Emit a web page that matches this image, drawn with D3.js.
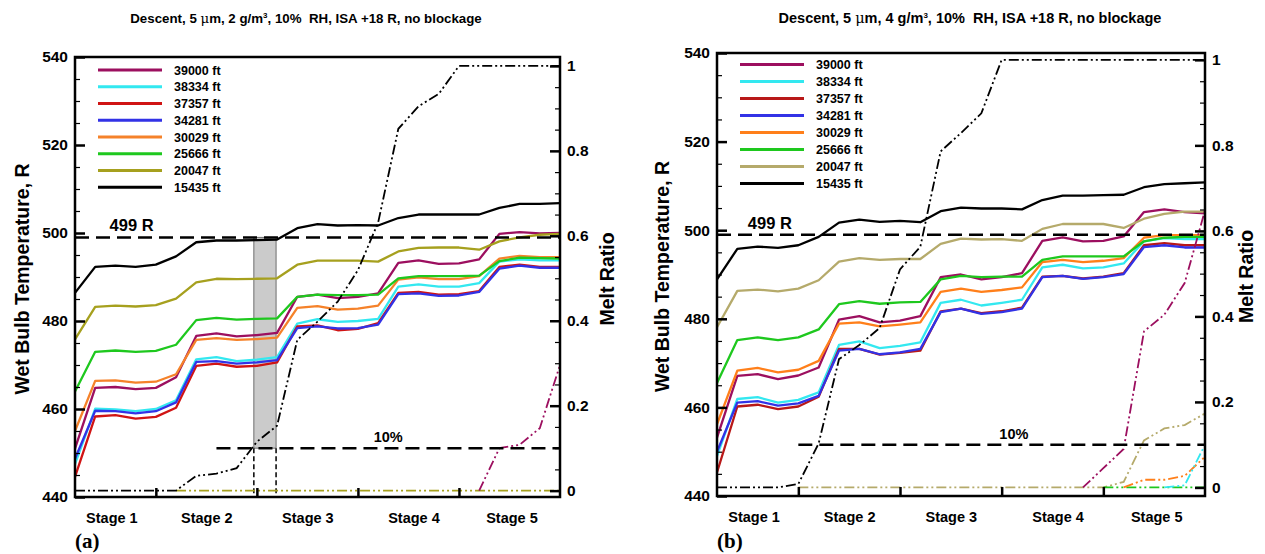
<!DOCTYPE html>
<html lang="en">
<head>
<meta charset="utf-8">
<title>Wet bulb temperature and melt ratio, descent</title>
<script src="https://cdn.jsdelivr.net/npm/d3@7"></script>
<style>
  body { margin: 0; background: #fff; }
  text { font-family: "Liberation Sans", Arial, sans-serif; font-weight: bold; fill: #000; }
  .axis text { font-size: 15.5px; }
  .stage text { font-size: 14.5px; }
</style>
</head>
<body>
<script>

var w = 1265;
var h = 554;

// compressor stations along the x axis
var station = [0,1,2,3,4,5,6,7,8,9,10,11,12,13,14,15,16,17,18,19,20,21,22,23,24];
var stageNames = ['Stage 1','Stage 2','Stage 3','Stage 4','Stage 5'];
var stageCentres = [1.8, 6.5, 11.5, 16.75, 21.6];
var stageBounds = [4, 9, 14, 19];
var altitudes = ['39000 ft','38334 ft','37357 ft','34281 ft','30029 ft','25666 ft','20047 ft','15435 ft'];

var tempTicks = [440, 460, 480, 500, 520, 540];
var tempMinor = [445, 450, 455, 465, 470, 475, 485, 490, 495, 505, 510, 515, 525, 530, 535];
var meltTicks = [0, 0.2, 0.4, 0.6, 0.8, 1];
var meltMinor = [0.05, 0.1, 0.15, 0.25, 0.3, 0.35, 0.45, 0.5, 0.55, 0.65, 0.7, 0.75, 0.85, 0.9, 0.95];

// (a) 2 g/m3 : wet bulb temperature, R
var a39000 = [451,464.8,465,464.5,464.8,467.2,476.6,477.2,476.5,476.8,477.3,485.5,486,485.2,485.5,486.3,493.2,493.8,493,493.1,494,499.8,500.2,499.9,500];
var a38334 = [447.5,460.1,459.9,459.5,460,462,471.3,471.8,470.9,471.2,471.8,479.4,480.4,479.8,480,480.5,487.8,488.3,487.8,487.8,488.6,493.5,494,493.8,493.8];
var a37357 = [444.6,458.3,458.6,457.8,458.2,460.3,469.8,470.3,469.6,469.8,470.6,478.8,479,477.9,478.2,479.5,486.4,486.6,486,486.1,486.8,492.3,492.8,492.3,492.3];
var a34281 = [448.7,459.6,459.5,459,459.5,461.5,470.7,470.9,470.3,470.6,471.1,478.4,478.8,478.3,478.4,479.2,486.1,486.3,485.7,485.8,486.6,491.9,492.6,492.1,492.1];
var a30029 = [455,466.4,466.5,466,466.2,467.9,475.7,476.1,475.7,475.9,476.2,483,483.4,482.6,482.8,483.5,489.4,489.9,489.5,489.5,490.2,494.2,494.8,494.5,494.5];
var a25666 = [464,473,473.3,473,473.2,474.6,480.2,480.7,480.3,480.5,480.6,485.5,486,485.9,485.9,486,489.7,490.2,490.2,490.2,490.3,493.6,494.4,494.3,494.2];
var a20047 = [475.8,483.2,483.5,483.3,483.6,485.1,488.8,489.6,489.5,489.6,489.7,492.8,493.7,493.7,493.7,493.5,495.8,496.6,496.7,496.7,496.2,498.1,499,499.6,499.8];
var a15435 = [486.4,492.3,492.6,492.3,492.8,494.7,497.9,498.3,498.3,498.4,498.5,501.1,502,501.7,501.8,501.7,503.4,504.2,504.2,504.2,504.2,505.7,506.6,506.6,506.8];

// (a) melt ratio
var meltA39000 = [null,null,null,null,null,null,null,null,null,null,null,null,null,null,null,null,null,null,null,null,0,0.1,0.108,0.147,0.296];
var meltA20047 = [null,null,null,null,null,0,0,0,0,0,0,0,0,0,0,0,0,0,0,0,0,0,0,0,0];
var meltA15435 = [0,0,0,0,0,0,0.035,0.04,0.053,0.115,0.153,0.355,0.398,0.445,0.519,0.631,0.852,0.905,0.934,1,1,1,1,1,1];

// (b) 4 g/m3 : wet bulb temperature, R
var b39000 = [453.2,467.1,467.5,466.4,467.2,469,479.8,480.6,479.2,479.6,480.6,489.4,490,488.9,489.4,490.3,497.6,498.4,497.5,497.6,498.6,504.1,504.7,504.1,503.8];
var b38334 = [449,461.9,462.3,461.1,461.7,463.4,474.1,474.9,473.4,473.9,474.7,483.6,484.3,483,483.6,484.3,491.6,492.2,491.4,491.6,492.5,497.5,498.2,498,498];
var b37357 = [445.3,460.2,460.6,459.6,460.2,462.4,473.2,473.2,471.9,472.3,472.8,481.7,482.3,481.3,481.7,482.5,489.5,489.7,489.1,489.5,490.3,496.6,497.1,496.6,496.6];
var b34281 = [450,461.1,461.4,460.4,460.9,462.6,472.8,473.2,472,472.4,473.2,481.5,482.3,481.1,481.5,482.3,489.4,489.7,489,489.4,490.1,496.2,496.6,496.1,496.1];
var b30029 = [456.2,468.3,468.9,467.9,468.5,470.5,478.9,479.2,478.3,478.7,479.2,486.1,486.8,486.1,486.5,487.1,492.8,493.3,492.8,493.1,493.7,498.3,498.9,498.9,498.9];
var b25666 = [465.5,475.2,475.8,475.2,475.8,477.6,483.3,484,483.4,483.7,483.8,488.9,489.7,489.4,489.5,489.5,493.3,494.1,494.1,494.1,494.1,497.5,498.3,498.5,498.5];
var b20047 = [478.1,486.3,486.6,486.2,486.8,488.7,492.9,493.7,493.3,493.5,493.5,496.9,498.1,497.9,498,497.6,500.3,501.4,501.4,501.4,500.5,502.6,503.7,504.2,504.2];
var b15435 = [488.9,495.8,496.3,496,496.6,498.5,501.7,502.4,501.9,502.1,501.8,504.3,505.1,504.9,504.9,504.7,506.8,507.8,507.8,507.9,508,509.7,510.4,510.6,510.8];

// (b) melt ratio
var meltB20047 = [null,null,null,null,0,0,0,0,0,0,0,0,0,0,0,0,0,0,0,0,0.013,0.11,0.138,0.146,0.173];
var meltB25666 = [null,null,null,null,null,null,null,null,null,null,null,null,null,null,null,null,null,null,null,0,0,0,0,0,0];
var meltB30029 = [null,null,null,null,null,null,null,null,null,null,null,null,null,null,null,null,null,null,null,null,0,0.018,0.018,0.027,0.072];
var meltB38334 = [null,null,null,null,null,null,null,null,null,null,null,null,null,null,null,null,null,null,null,null,null,null,0,0.005,0.1];
var meltB39000 = [null,null,null,null,null,null,null,null,null,null,null,null,null,null,null,null,null,null,0,0.045,0.09,0.365,0.404,0.478,0.648];
var meltB15435 = [0,0,0,0,0.008,0.103,0.3,0.333,0.373,0.51,0.563,0.786,0.829,0.875,1,1,1,1,1,1,1,1,1,1,1];

var colorsA = ['#9c0f5f','#33e8f0','#d01414','#3232e6','#f5822a','#1ec81e','#a6a01e','#000000'];
var colorsB = ['#9c0f5f','#33e8f0','#b81818','#3232e6','#ff7f1a','#1ec81e','#b5aa6b','#000000'];

var svg = d3.select('body')
  .append('svg')
  .attr('width', w)
  .attr('height', h);

var panels = [
  { tag:'(a)', conc:'2', x0:75, x1:560, y0:57, y1:497, meltDomain:[-0.015,1.021],
    temps:[a39000,a38334,a37357,a34281,a30029,a25666,a20047,a15435], colors:colorsA,
    melts:[{v:meltA20047,c:6},{v:meltA39000,c:0},{v:meltA15435,c:7}],
    shade:[8.85,9.95], tenFrom:7, tenLabel:15.5, rLabel:2.8,
    titleX:306, titleSize:13.3, legY:70, legStep:16.75, yTitleL:22, yTitleR:607 },
  { tag:'(b)', conc:'4', x0:717, x1:1205, y0:53, y1:496, meltDomain:[-0.02,1.016],
    temps:[b39000,b38334,b37357,b34281,b30029,b25666,b20047,b15435], colors:colorsB,
    melts:[{v:meltB20047,c:6},{v:meltB25666,c:5},{v:meltB30029,c:4},{v:meltB38334,c:1},{v:meltB39000,c:0},{v:meltB15435,c:7}],
    shade:null, tenFrom:4, tenLabel:14.6, rLabel:2.6,
    titleX:970, titleSize:14.5, legY:64.5, legStep:17, yTitleL:662, yTitleR:1246 }
];

var drawPanel = function(p) {
  var g = svg.append('g');
  var x = d3.scaleLinear().domain([0,24]).range([p.x0,p.x1]);
  var yT = d3.scaleLinear().domain([440,540]).range([p.y1,p.y0]);
  var yM = d3.scaleLinear().domain(p.meltDomain).range([p.y1,p.y0]);

  // title
  var t = g.append('text')
    .attr('x', p.titleX).attr('y', 23)
    .attr('text-anchor','middle')
    .style('font-size', p.titleSize + 'px')
    .style('white-space','pre');
  t.append('tspan').text('Descent, 5 ');
  t.append('tspan').style('font-family','"DejaVu Serif", serif').style('font-weight','normal').text('\u03bc');
  t.append('tspan').text('m, ' + p.conc + ' g/m');
  t.append('tspan').attr('dy',-5).style('font-size','8px').text('3');
  t.append('tspan').attr('dy',5).text(', 10%  RH, ISA +18 R, no blockage');

  // shaded window between 10% melt and 499 R
  if (p.shade) {
    g.append('rect')
      .attr('x', x(p.shade[0])).attr('y', yT(499))
      .attr('width', x(p.shade[1]) - x(p.shade[0]))
      .attr('height', yM(0.1) - yT(499))
      .attr('fill','#cbcbcb').attr('stroke','#6e6e6e').attr('stroke-width',1);
    p.shade.forEach(function(s){
      g.append('line')
        .attr('x1', x(s)).attr('x2', x(s))
        .attr('y1', yM(0.1)).attr('y2', p.y1)
        .attr('stroke','#000').attr('stroke-width',1.5)
        .attr('stroke-dasharray','5,3');
    });
  }

  // wet bulb lines
  var lineT = d3.line()
    .x(function(d,i){ return x(station[i]); })
    .y(function(d){ return yT(d); });
  p.temps.forEach(function(s,k){
    g.append('path').datum(s)
      .attr('d', lineT)
      .attr('fill','none')
      .attr('stroke', p.colors[k])
      .attr('stroke-width', 2.3)
      .attr('stroke-linejoin','round');
  });

  // melt ratio lines
  var lineM = d3.line()
    .defined(function(d){ return d != null; })
    .x(function(d,i){ return x(station[i]); })
    .y(function(d){ return yM(d); });
  p.melts.forEach(function(m){
    g.append('path').datum(m.v)
      .attr('d', lineM)
      .attr('fill','none')
      .attr('stroke', p.colors[m.c])
      .attr('stroke-width', 1.8)
      .attr('stroke-dasharray','10,3,2,3,2,3');
  });

  // reference lines
  g.append('line')
    .attr('x1', p.x0).attr('x2', p.x1)
    .attr('y1', yT(499)).attr('y2', yT(499))
    .attr('stroke','#000').attr('stroke-width',2.5).attr('stroke-dasharray','14,7');
  g.append('line')
    .attr('x1', x(p.tenFrom)).attr('x2', p.x1)
    .attr('y1', yM(0.1)).attr('y2', yM(0.1))
    .attr('stroke','#000').attr('stroke-width',2.5).attr('stroke-dasharray','14,7');
  g.append('text')
    .attr('x', x(p.rLabel)).attr('y', yT(499) - 6)
    .attr('text-anchor','middle').style('font-size','16.5px')
    .text('499 R');
  g.append('text')
    .attr('x', x(p.tenLabel)).attr('y', yM(0.1) - 6)
    .attr('text-anchor','middle').style('font-size','14.5px')
    .text('10%');

  // legend
  altitudes.forEach(function(a,k){
    var yy = p.legY + k*p.legStep;
    g.append('line')
      .attr('x1', p.x0 + 23).attr('x2', p.x0 + 87)
      .attr('y1', yy).attr('y2', yy)
      .attr('stroke', p.colors[k]).attr('stroke-width', 3);
    g.append('text')
      .attr('x', p.x0 + 99).attr('y', yy + 4.5)
      .style('font-size','12.5px')
      .text(a);
  });

  // axes
  var axL = g.append('g').attr('class','axis').attr('transform','translate(' + p.x0 + ',0)')
    .call(d3.axisLeft(yT).tickValues(tempTicks).tickSize(-10).tickPadding(7));
  var axLm = g.append('g').attr('transform','translate(' + p.x0 + ',0)')
    .call(d3.axisLeft(yT).tickValues(tempMinor).tickSize(-5).tickFormat(''));
  var axR = g.append('g').attr('class','axis').attr('transform','translate(' + p.x1 + ',0)')
    .call(d3.axisRight(yM).tickValues(meltTicks).tickSize(-10).tickPadding(7).tickFormat(d3.format('~g')));
  var axRm = g.append('g').attr('transform','translate(' + p.x1 + ',0)')
    .call(d3.axisRight(yM).tickValues(meltMinor).tickSize(-5).tickFormat(''));
  var axB = g.append('g').attr('transform','translate(0,' + p.y1 + ')')
    .call(d3.axisBottom(x).tickValues(stageBounds).tickSize(-9).tickFormat(''));
  var axS = g.append('g').attr('class','stage').attr('transform','translate(0,' + p.y1 + ')')
    .call(d3.axisBottom(x).tickValues(stageCentres).tickSize(0).tickPadding(16)
      .tickFormat(function(d,i){ return stageNames[i]; }));

  [axL, axLm, axR, axRm, axB, axS].forEach(function(a){
    a.select('.domain').remove();
    a.selectAll('text').attr('fill', null).style('font-family', null);
    a.attr('font-family', null).attr('font-size', null);
  });
  [axL, axR, axB].forEach(function(a){
    a.selectAll('line').attr('stroke','#000').attr('stroke-width',2.5);
  });
  [axLm, axRm].forEach(function(a){
    a.selectAll('line').attr('stroke','#000').attr('stroke-width',1.2);
  });

  // frame
  g.append('rect')
    .attr('x', p.x0).attr('y', p.y0)
    .attr('width', p.x1 - p.x0).attr('height', p.y1 - p.y0)
    .attr('fill','none').attr('stroke','#000').attr('stroke-width',2.5);

  // axis titles
  var cy = (p.y0 + p.y1) / 2 + 2;
  g.append('text')
    .attr('transform','translate(' + p.yTitleL + ',' + cy + ') rotate(-90)')
    .attr('text-anchor','middle').attr('dy','0.35em')
    .style('font-size','19.5px')
    .text('Wet Bulb Temperature, R');
  g.append('text')
    .attr('transform','translate(' + p.yTitleR + ',' + cy + ') rotate(-90)')
    .attr('text-anchor','middle').attr('dy','0.35em')
    .style('font-size','19.5px')
    .text('Melt Ratio');

  // panel tag
  g.append('text')
    .attr('x', p.x0).attr('y', 548)
    .style('font-family','"Liberation Serif", "Times New Roman", serif')
    .style('font-size','21px')
    .text(p.tag);
};

panels.forEach(drawPanel);

</script>
</body>
</html>
